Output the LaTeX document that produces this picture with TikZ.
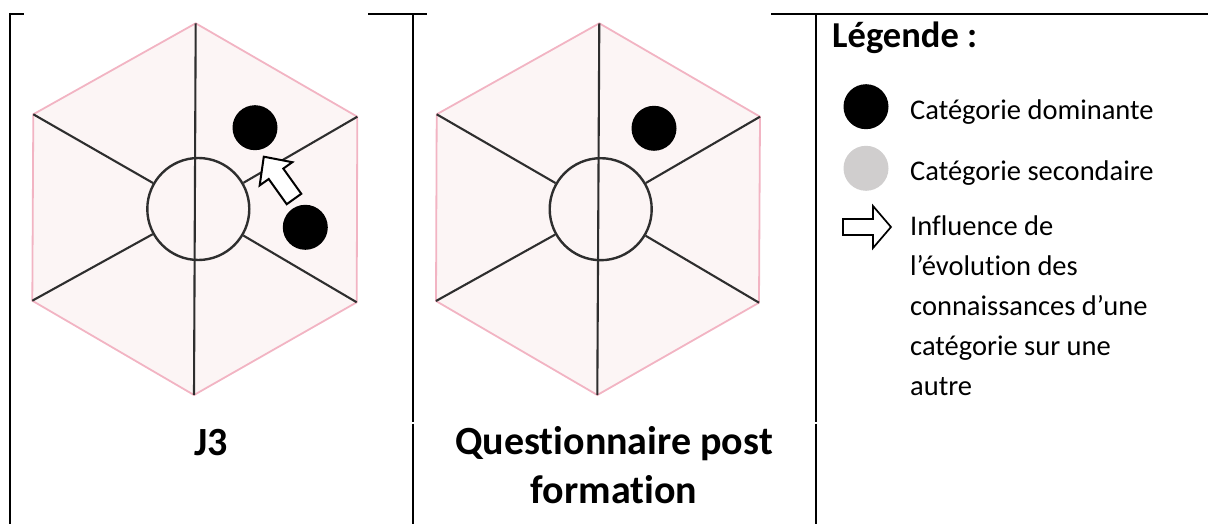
\documentclass[tikz,border=0pt]{standalone}
\usepackage{fontspec}
\setmainfont{Carlito}[Ligatures=NoCommon]
\definecolor{hexfill}{HTML}{FCF5F5}
\definecolor{hexedge}{HTML}{F2B4C3}
\definecolor{spoke}{HTML}{2E2E2E}
\definecolor{secgray}{HTML}{D0CECE}
\begin{document}
\begin{tikzpicture}[x=1pt,y=-1pt,
  rule/.style={line width=2pt,black},
  hexedgeline/.style={draw=hexedge,line width=1.8pt},
  spokeline/.style={draw=spoke,line width=2.1pt},
  hub/.style={circle,draw=spoke,line width=2.4pt,minimum size=102pt,inner sep=0pt},
  dot/.style={circle,fill=black,minimum size=45pt,inner sep=0pt},
  graydot/.style={circle,fill=secgray,minimum size=45pt,inner sep=0pt},
  blockarrow/.style={draw=black,fill=white,line width=2pt,line join=miter},
  legtext/.style={font=\fontsize{28.5}{40}\selectfont,anchor=base west,inner sep=0pt},
  title/.style={font=\fontsize{40}{50}\selectfont\bfseries,anchor=base,inner sep=0pt,align=center}]
\useasboundingbox (0,0) rectangle (1208,524);

% ---------- table rules ----------
\draw[rule] (10,14) -- (24,14);
\draw[rule] (368,14) -- (427,14);
\draw[rule] (771,14) -- (1208,14);
\draw[rule] (10,13) -- (10,524);
\draw[rule] (413,14) -- (413,421.5);
\draw[rule] (413,423.5) -- (413,524);
\draw[rule] (816,14) -- (816,421.5);
\draw[rule] (816,423.5) -- (816,524);

% ---------- hexagon 1 ----------
\coordinate (t1) at (195.7,23.3);
\coordinate (ur1) at (357.3,116.7);
\coordinate (lr1) at (356.7,302.3);
\coordinate (b1) at (194,395);
\coordinate (ll1) at (32.3,300.7);
\coordinate (ul1) at (33.3,114.3);
\fill[hexfill] (t1) -- (ur1) -- (lr1) -- (b1) -- (ll1) -- (ul1) -- cycle;
\draw[hexedgeline] (t1) -- (ur1) -- (lr1) -- (b1) -- (ll1) -- (ul1) -- cycle;
\node[hub] (c1) at (198.3,209) {};
\draw[spokeline] (ul1) -- (c1);
\draw[spokeline] (ur1) -- (c1);
\draw[spokeline] (ll1) -- (c1);
\draw[spokeline] (lr1) -- (c1);
\draw[spokeline] (t1) -- (b1);
\node[dot] (d1a) at (255,127.7) {};
\node[dot] (d1b) at (305.3,227.3) {};
\draw[blockarrow] (286.7,204.2) -- (268.7,179.0) -- (259.7,185.4) -- (263.8,156.7)
  -- (292.3,162.2) -- (283.3,168.6) -- (301.3,193.8) -- cycle;

% ---------- hexagon 2 ----------
\coordinate (t2) at (599.3,23.3);
\coordinate (ur2) at (760,116.7);
\coordinate (lr2) at (759,302.7);
\coordinate (b2) at (597.3,395);
\coordinate (ll2) at (436,301);
\coordinate (ul2) at (436.7,114.3);
\fill[hexfill] (t2) -- (ur2) -- (lr2) -- (b2) -- (ll2) -- (ul2) -- cycle;
\draw[hexedgeline] (t2) -- (ur2) -- (lr2) -- (b2) -- (ll2) -- (ul2) -- cycle;
\node[hub] (c2) at (600.7,209.2) {};
\draw[spokeline] (ul2) -- (c2);
\draw[spokeline] (ur2) -- (c2);
\draw[spokeline] (ll2) -- (c2);
\draw[spokeline] (lr2) -- (c2);
\draw[spokeline] (t2) -- (b2);
\node[dot] (d2) at (654,128.3) {};

% ---------- titles ----------
\node[title] (j3) at (211,455) {J3};
\node[title] (q1) at (614,454) {Questionnaire post};
\node[title] (q2) at (614,503.5) {formation};

% ---------- legend ----------
\node[font=\fontsize{36.5}{44}\selectfont\bfseries,anchor=base west,inner sep=0pt] (leg) at (832,48) {Légende :};
\node[dot] (ldot) at (866,106.7) {};
\node[legtext] (ltxt1) at (910,119.3) {Catégorie dominante};
\node[graydot] (lgray) at (866,168.3) {};
\node[legtext] (ltxt2) at (910,180) {Catégorie secondaire};
\draw[black,fill=white,line width=1.7pt,line join=miter] (843,219) -- (873,219) -- (873,206) -- (891,227)
  -- (873,248) -- (873,235) -- (843,235) -- cycle;
\node[legtext] (l3) at (910,235) {Influence de};
\node[legtext] (l4) at (910,275) {l’évolution des};
\node[legtext] (l5) at (910,315) {connaissances d’une};
\node[legtext] (l6) at (910,355) {catégorie sur une};
\node[legtext] (l7) at (910,395) {autre};
\end{tikzpicture}
\end{document}
